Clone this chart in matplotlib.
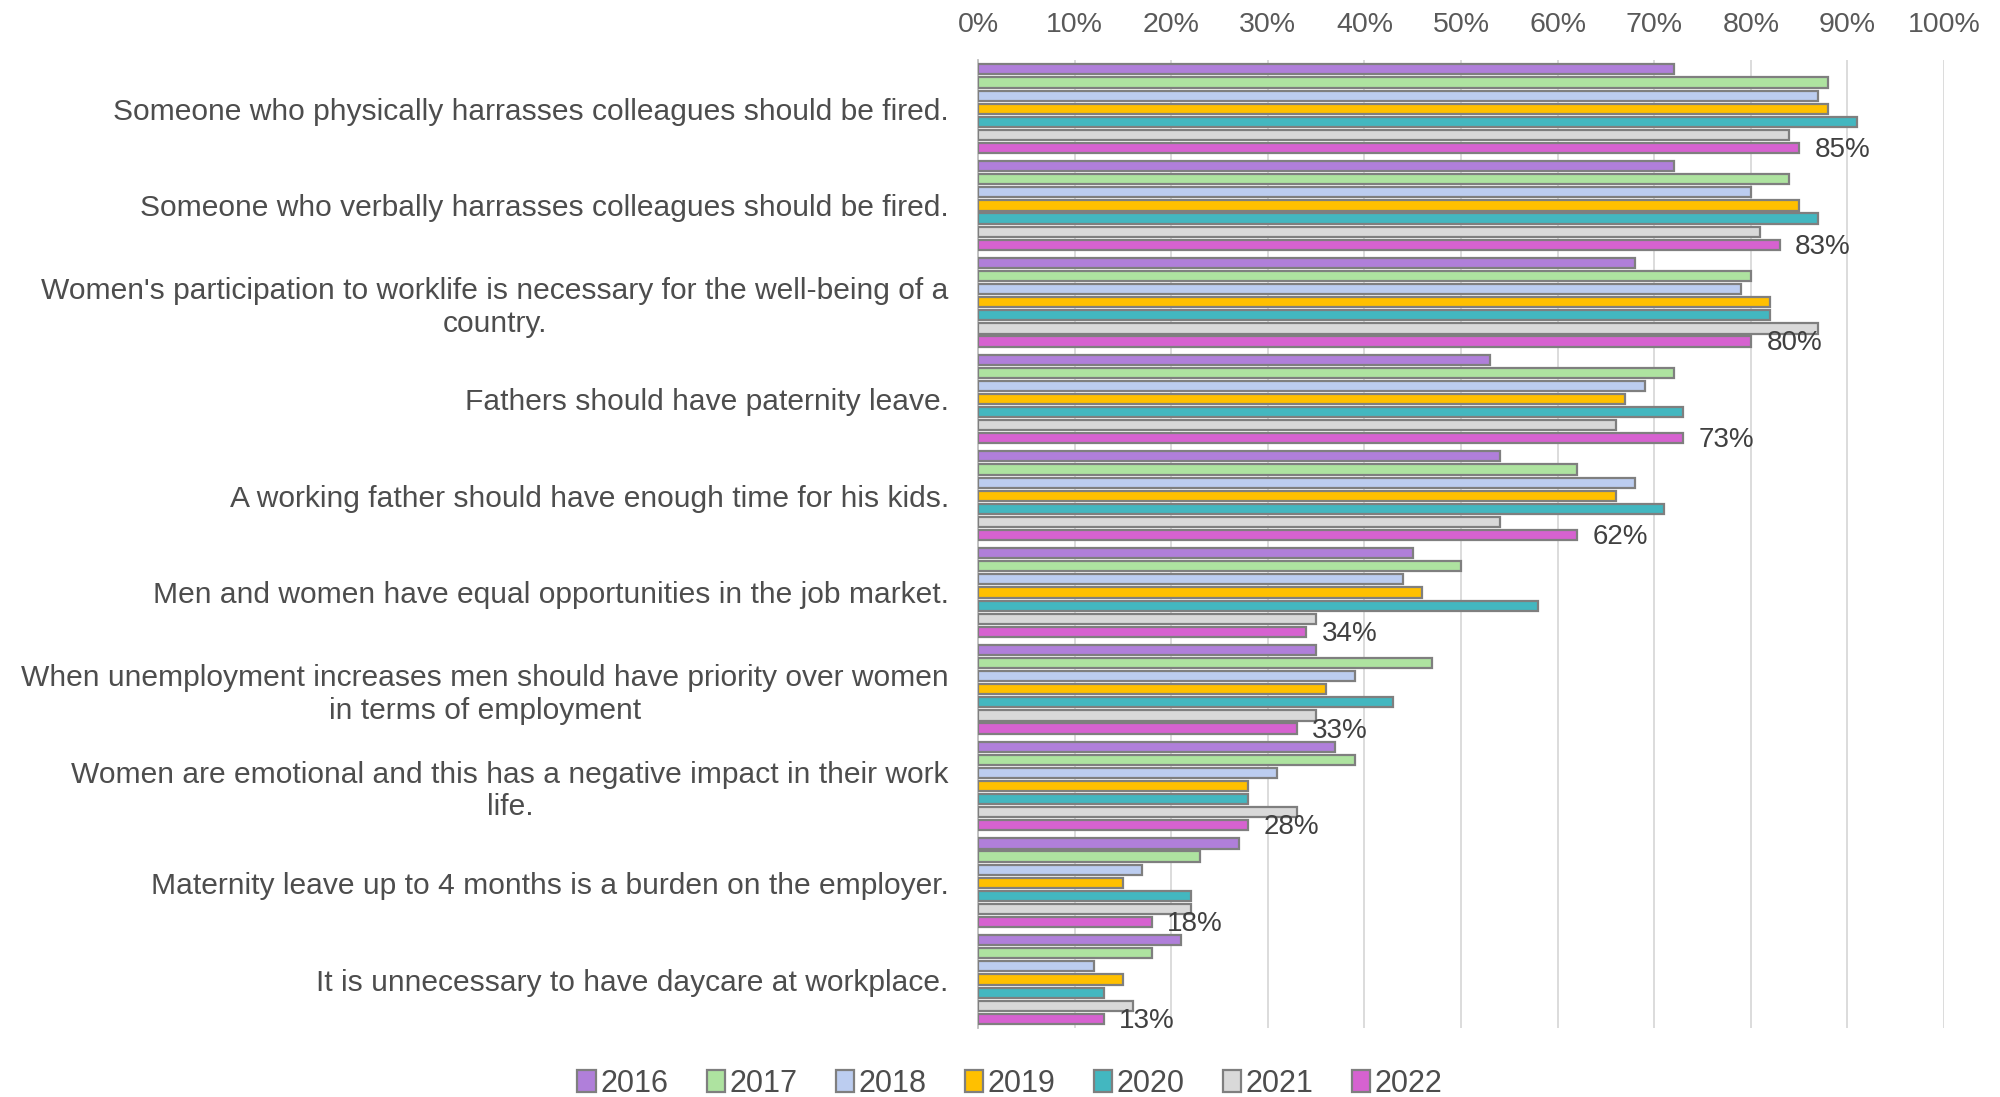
import numpy as np
import matplotlib
matplotlib.use('Agg')
import matplotlib.pyplot as plt
from matplotlib.ticker import PercentFormatter

statements = [
    "Someone who physically harrasses colleagues should be fired.",
    "Someone who verbally harrasses colleagues should be fired.",
    "Women's participation to worklife is necessary for the well-being of a\ncountry.",
    "Fathers should have paternity leave.",
    "A working father should have enough time for his kids.",
    "Men and women have equal opportunities in the job market.",
    "When unemployment increases men should have priority over women\nin terms of employment",
    "Women are emotional and this has a negative impact in their work\nlife.",
    "Maternity leave up to 4 months is a burden on the employer.",
    "It is unnecessary to have daycare at workplace.",
]

years = ['2016', '2017', '2018', '2019', '2020', '2021', '2022']

# percent agreeing, one list per year, statements in the order above
v2016 = [72, 72, 68, 53, 54, 45, 35, 37, 27, 21]
v2017 = [88, 84, 80, 72, 62, 50, 47, 39, 23, 18]
v2018 = [87, 80, 79, 69, 68, 44, 39, 31, 17, 12]
v2019 = [88, 85, 82, 67, 66, 46, 36, 28, 15, 15]
v2020 = [91, 87, 82, 73, 71, 58, 43, 28, 22, 13]
v2021 = [84, 81, 87, 66, 54, 35, 35, 33, 22, 16]
v2022 = [85, 83, 80, 73, 62, 34, 33, 28, 18, 13]
series = [v2016, v2017, v2018, v2019, v2020, v2021, v2022]

colors = ['#b07fda', '#aee3a0', '#bccdf0', '#ffc000', '#43b7c0', '#d9d9d9', '#d662d0']

plt.rcParams['font.family'] = ['Liberation Sans', 'DejaVu Sans']

fig = plt.figure(figsize=(20, 10.97), dpi=100)
ax = fig.add_axes([0.489, 0.063, 0.483, 0.882])

n = len(years)
step = 0.1355
bar_h = 0.105
y = np.arange(len(statements))
for j, (yr, vals, c) in enumerate(zip(years, series, colors)):
    pos = y + (j - (n - 1) / 2) * step
    ax.barh(pos, vals, height=bar_h, color=c, edgecolor='#7f7f7f',
            linewidth=1.6, label=yr, zorder=3)
    if yr == '2022':
        for p, v in zip(pos, vals):
            ax.text(v + 1.6, p + 0.02, f'{v}%', va='center', ha='left',
                    fontsize=20, color='#404040', zorder=4)

ax.set_xlim(0, 100)
ax.set_ylim(len(statements) - 0.5, -0.5)
ax.set_xticks(np.arange(0, 101, 10))
ax.xaxis.set_major_formatter(PercentFormatter(decimals=0))
ax.xaxis.tick_top()
ax.tick_params(axis='x', length=0, pad=16, labelsize=20.5, labelcolor='#595959')
ax.set_yticks(y)
ax.set_yticklabels(statements)
ax.tick_params(axis='y', length=0, pad=21, labelsize=21.6, labelcolor='#4d4d4d')
for lbl in ax.get_yticklabels():
    lbl.set_multialignment('center')

ax.grid(axis='x', color='#d9d9d9', linewidth=1.3, zorder=0)
for s in ['top', 'right', 'bottom']:
    ax.spines[s].set_visible(False)
ax.spines['left'].set_color('#bfbfbf')
ax.spines['left'].set_linewidth(1.3)

leg = fig.legend(loc='center', bbox_to_anchor=(0.505, 0.012), ncol=7,
                 frameon=False, fontsize=22, handlelength=0.6, handleheight=0.7,
                 handletextpad=0.15, columnspacing=1.25, labelcolor='#4d4d4d')

fig.savefig('out.png', dpi=100)
